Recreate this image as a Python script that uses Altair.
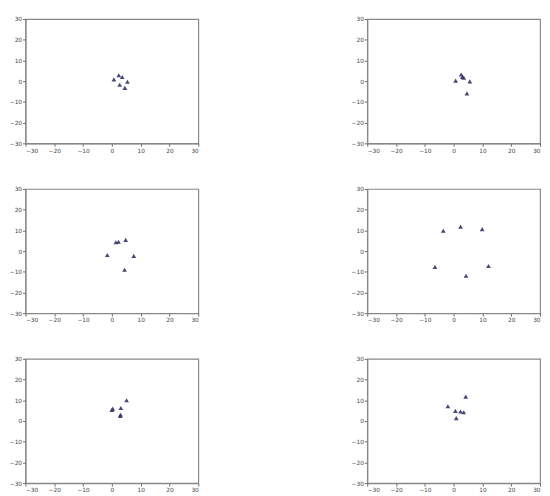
import altair as alt
import pandas as pd

# point positions per panel
p1_x = [0.7, 2.4, 3.6, 5.4, 2.7, 4.5]
p1_y = [0.9, 2.9, 2.0, -0.3, -1.7, -3.2]
p2_x = [0.7, 2.6, 3.0, 3.5, 5.6, 4.6]
p2_y = [0.3, 3.2, 2.1, 1.7, -0.1, -5.9]
p3_x = [1.4, 2.3, 4.8, -1.6, 7.6, 4.4]
p3_y = [4.3, 4.5, 5.4, -1.9, -2.3, -9.0]
p4_x = [-3.6, 2.4, 9.9, -6.5, 12.1, 4.3]
p4_y = [9.8, 11.8, 10.6, -7.6, -7.2, -11.9]
p5_x = [0.0, 0.3, 3.1, 5.1, 2.9, 3.0]
p5_y = [5.4, 6.0, 6.3, 10.0, 2.5, 3.0]
p6_x = [-2.0, 0.6, 2.4, 3.5, 0.9, 4.2]
p6_y = [7.1, 4.9, 4.6, 4.2, 1.4, 11.8]

ticks = [-30, -20, -10, 0, 10, 20, 30]

panels = [(p1_x, p1_y), (p2_x, p2_y), (p3_x, p3_y),
          (p4_x, p4_y), (p5_x, p5_y), (p6_x, p6_y)]

axis_common = dict(values=ticks, title=None, grid=False, labelFontSize=6,
                   labelColor="#444444", tickColor="#666666", tickSize=3,
                   domainColor="#888888", domainWidth=1.2, labelPadding=1,
                   labelFont="DejaVu Sans")


def panel(xs, ys):
    df = pd.DataFrame({"x": xs, "y": ys})
    return alt.Chart(df).mark_point(
        shape="triangle-up", filled=True, size=24, color="#33336a", opacity=0.9
    ).encode(
        x=alt.X("x:Q", scale=alt.Scale(domain=[-30, 30], nice=False),
                axis=alt.Axis(**axis_common)),
        y=alt.Y("y:Q", scale=alt.Scale(domain=[-30, 30], nice=False),
                axis=alt.Axis(**axis_common)),
    ).properties(width=178, height=128)


charts = [panel(xs, ys) for xs, ys in panels]

rows = [alt.hconcat(charts[i], charts[i + 1], spacing=154) for i in (0, 2, 4)]
chart = alt.vconcat(*rows, spacing=32).properties(
    padding={"left": 0, "top": 0, "right": 0, "bottom": 0}
).configure_view(stroke="#888888", strokeWidth=1.2)

chart.save("out.html", embed_options={"renderer": "svg", "actions": False})
